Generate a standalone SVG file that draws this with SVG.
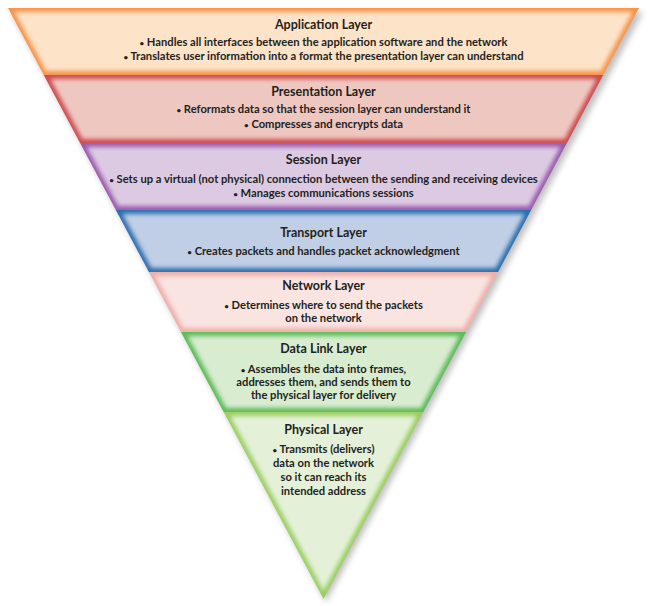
<svg xmlns="http://www.w3.org/2000/svg" width="649" height="606" viewBox="0 0 649 606">
  <defs>
    <filter id="soft" x="-5%" y="-20%" width="110%" height="140%">
      <feGaussianBlur stdDeviation="2"/>
    </filter>
    <filter id="shadow" x="-10%" y="-10%" width="120%" height="120%">
      <feGaussianBlur stdDeviation="3"/>
    </filter>
  </defs>
  <style>
    text { font-family: Lato, "Liberation Sans", Arial, sans-serif; fill: #231F20; text-anchor: middle; font-weight: 700; }
    .title { font-size: 12.5px; }
    .body { font-size: 11.2px; }
    .b { font-size: 8px; }
    .inner { filter: url(#soft); }
  </style>
  <rect width="649" height="606" fill="#ffffff"/>
  <polygon points="11,12 643,12 326,602" fill="#000" opacity="0.25" filter="url(#shadow)"/>

  <g id="application-layer">
    <polygon points="8,8 639,8 603.23,75 43.77,75" fill="#F7944A"/>
    <polygon class="inner" points="14.67,12 632.33,12 600.84,71 46.16,71" fill="#FDE3C8"/>
    <text class="title" x="323.5" y="29">Application Layer</text>
    <text class="body" x="323.5" y="46"><tspan class="b">•</tspan> Handles all interfaces between the application software and the network</text>
    <text class="body" x="323.5" y="60"><tspan class="b">•</tspan> Translates user information into a format the presentation layer can understand</text>
  </g>

  <g id="presentation-layer">
    <polygon points="43.77,75 603.23,75 566.93,143 80.07,143" fill="#CE4B4F"/>
    <polygon class="inner" points="50.43,79 596.57,79 564.54,139 82.46,139" fill="#EFC7C1"/>
    <text class="title" x="323.5" y="96">Presentation Layer</text>
    <text class="body" x="323.5" y="113"><tspan class="b">•</tspan> Reformats data so that the session layer can understand it</text>
    <text class="body" x="323.5" y="128"><tspan class="b">•</tspan> Compresses and encrypts data</text>
  </g>

  <g id="session-layer">
    <polygon points="80.07,143 566.93,143 531.16,210 115.84,210" fill="#9C5BAF"/>
    <polygon class="inner" points="86.73,147 560.27,147 528.77,206 118.23,206" fill="#DCCAE3"/>
    <text class="title" x="323.5" y="163.5">Session Layer</text>
    <text class="body" x="323.5" y="183"><tspan class="b">•</tspan> Sets up a virtual (not physical) connection between the sending and receiving devices</text>
    <text class="body" x="323.5" y="197"><tspan class="b">•</tspan> Manages communications sessions</text>
  </g>

  <g id="transport-layer">
    <polygon points="115.84,210 531.16,210 498.07,272 148.93,272" fill="#2C6FB0"/>
    <polygon class="inner" points="122.5,214 524.5,214 495.67,268 151.33,268" fill="#C0CEE6"/>
    <text class="title" x="323.5" y="237">Transport Layer</text>
    <text class="body" x="323.5" y="255"><tspan class="b">•</tspan> Creates packets and handles packet acknowledgment</text>
  </g>

  <g id="network-layer">
    <polygon points="148.93,272 498.07,272 466.04,332 180.96,332" fill="#EFB0AB"/>
    <polygon class="inner" points="155.6,276 491.4,276 463.64,328 183.36,328" fill="#F9E4E2"/>
    <text class="title" x="323.5" y="289.5">Network Layer</text>
    <text class="body" x="323.5" y="308.5"><tspan class="b">•</tspan> Determines where to send the packets</text>
    <text class="body" x="323.5" y="322">on the network</text>
  </g>

  <g id="data-link-layer">
    <polygon points="180.96,332 466.04,332 423.33,412 223.67,412" fill="#5DBB58"/>
    <polygon class="inner" points="187.63,336 459.37,336 420.93,408 226.07,408" fill="#D8ECD0"/>
    <text class="title" x="323.5" y="353">Data Link Layer</text>
    <text class="body" x="323.5" y="373"><tspan class="b">•</tspan> Assembles the data into frames,</text>
    <text class="body" x="323.5" y="386">addresses them, and sends them to</text>
    <text class="body" x="323.5" y="399">the physical layer for delivery</text>
  </g>

  <g id="physical-layer">
    <polygon points="223.67,412 423.33,412 323.5,599" fill="#9CCF62"/>
    <polygon class="inner" points="230.34,416 416.66,416 323.5,590.5" fill="#E4F1D8"/>
    <text class="title" x="323.5" y="434">Physical Layer</text>
    <text class="body" x="323.5" y="452.5"><tspan class="b">•</tspan> Transmits (delivers)</text>
    <text class="body" x="323.5" y="466.5">data on the network</text>
    <text class="body" x="323.5" y="481">so it can reach its</text>
    <text class="body" x="323.5" y="495">intended address</text>
  </g>

  <g id="connectors"/>
</svg>
